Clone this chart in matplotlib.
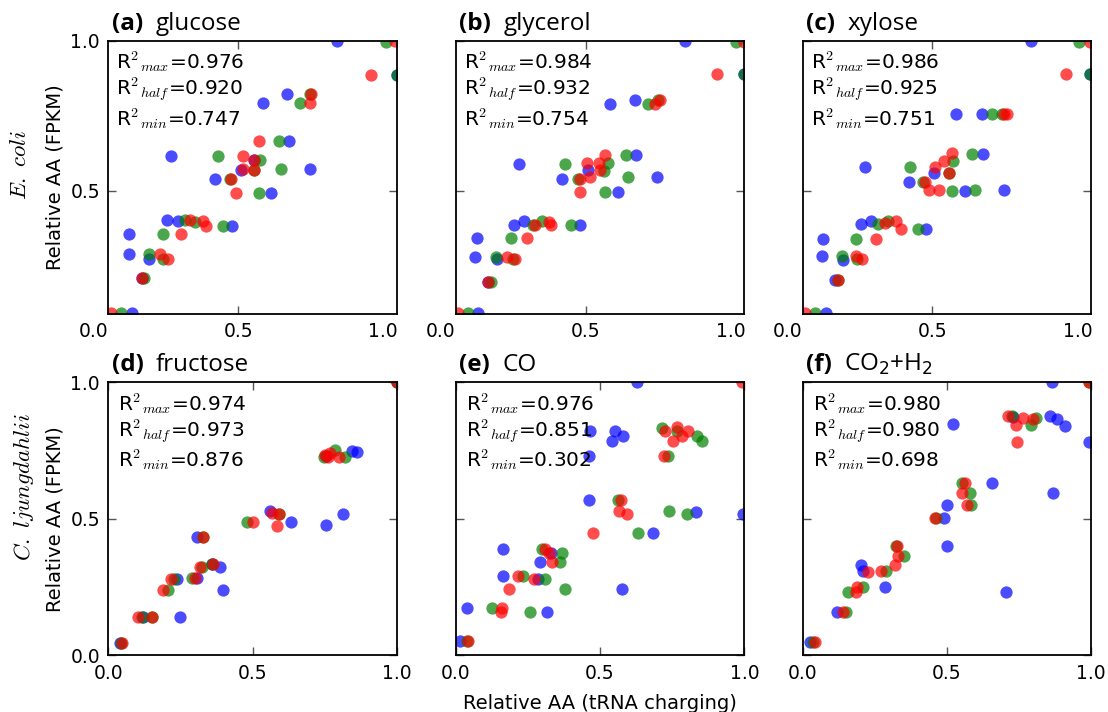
import numpy as np
import matplotlib
matplotlib.use("Agg")
import matplotlib.pyplot as plt

plt.rcParams['mathtext.fontset'] = 'cm'
plt.rcParams['font.family'] = 'DejaVu Sans'

# ---- data: (x, y) pairs, per condition and series ----
glucose_blue = [(0.840, 1.0), (0.668, 0.822), (0.584, 0.794), (0.675, 0.666), (0.269, 0.617),
                (0.748, 0.572), (0.509, 0.569), (0.421, 0.539), (0.614, 0.494), (0.254, 0.404),
                (0.291, 0.399), (0.480, 0.383), (0.125, 0.356), (0.122, 0.288), (0.194, 0.272),
                (0.133, 0.092), (1.047, 0.885), (0.553, 0.602), (0.168, 0.208)]
glucose_green = [(1.010, 0.997), (1.047, 0.885), (0.714, 0.794), (0.748, 0.822), (0.639, 0.666),
                 (0.430, 0.617), (0.576, 0.602), (0.647, 0.572), (0.472, 0.539), (0.570, 0.494),
                 (0.317, 0.404), (0.352, 0.397), (0.449, 0.383), (0.240, 0.356), (0.191, 0.288),
                 (0.240, 0.272), (0.174, 0.208), (0.097, 0.092), (0.556, 0.569)]
glucose_red = [(1.041, 1.0), (0.959, 0.885), (0.750, 0.822), (0.748, 0.794), (0.572, 0.666),
               (0.515, 0.617), (0.553, 0.602), (0.518, 0.572), (0.556, 0.569), (0.476, 0.539),
               (0.492, 0.494), (0.334, 0.404), (0.377, 0.399), (0.388, 0.383), (0.302, 0.356),
               (0.231, 0.288), (0.258, 0.272), (0.168, 0.208), (0.061, 0.092)]

glycerol_blue = [(0.843, 1.0), (0.669, 0.802), (0.584, 0.791), (0.672, 0.619), (0.269, 0.591),
                 (0.747, 0.547), (0.507, 0.569), (0.419, 0.539), (0.612, 0.497), (0.254, 0.386),
                 (0.288, 0.400), (0.479, 0.386), (0.125, 0.341), (0.119, 0.280), (0.194, 0.271),
                 (0.130, 0.092), (1.047, 0.889), (0.165, 0.197)]
glycerol_green = [(1.018, 0.997), (1.047, 0.889), (0.715, 0.791), (0.751, 0.802), (0.638, 0.619),
                  (0.430, 0.591), (0.577, 0.594), (0.563, 0.567), (0.646, 0.547), (0.473, 0.539),
                  (0.566, 0.497), (0.317, 0.386), (0.350, 0.400), (0.448, 0.386), (0.243, 0.341),
                  (0.191, 0.280), (0.248, 0.271), (0.174, 0.197), (0.093, 0.092)]
glycerol_red = [(1.047, 0.997), (0.953, 0.889), (0.738, 0.791), (0.755, 0.802), (0.565, 0.619),
                (0.503, 0.594), (0.546, 0.594), (0.514, 0.547), (0.549, 0.569), (0.480, 0.539),
                (0.480, 0.497), (0.324, 0.386), (0.373, 0.397), (0.382, 0.386), (0.298, 0.341),
                (0.228, 0.280), (0.257, 0.271), (0.165, 0.197), (0.059, 0.092)]

xylose_blue = [(0.840, 1.0), (0.582, 0.756), (0.669, 0.756), (0.673, 0.624), (0.268, 0.578),
               (0.748, 0.502), (0.506, 0.560), (0.420, 0.530), (0.611, 0.500), (0.253, 0.389),
               (0.288, 0.399), (0.478, 0.372), (0.124, 0.339), (0.119, 0.283), (0.193, 0.269),
               (0.133, 0.092), (0.165, 0.202), (1.043, 0.891)]
xylose_green = [(1.005, 0.997), (1.043, 0.891), (0.705, 0.756), (0.738, 0.756), (0.636, 0.624),
                (0.423, 0.578), (0.570, 0.599), (0.556, 0.561), (0.648, 0.502), (0.567, 0.500),
                (0.466, 0.530), (0.311, 0.389), (0.346, 0.399), (0.449, 0.372), (0.237, 0.339),
                (0.188, 0.283), (0.239, 0.271), (0.176, 0.202), (0.096, 0.092)]
xylose_red = [(1.043, 0.997), (0.959, 0.891), (0.748, 0.756), (0.757, 0.756), (0.567, 0.627),
              (0.510, 0.578), (0.541, 0.599), (0.556, 0.561), (0.489, 0.502), (0.521, 0.502),
              (0.473, 0.530), (0.335, 0.393), (0.374, 0.399), (0.391, 0.372), (0.305, 0.339),
              (0.237, 0.283), (0.257, 0.271), (0.173, 0.202), (0.061, 0.092)]

fructose_blue = [(1.0, 1.0), (0.844, 0.747), (0.861, 0.743), (0.755, 0.730), (0.815, 0.517),
                 (0.755, 0.476), (0.634, 0.487), (0.561, 0.527), (0.309, 0.433), (0.387, 0.323),
                 (0.399, 0.240), (0.249, 0.139), (0.239, 0.280), (0.040, 0.044), (0.358, 0.334),
                 (0.309, 0.282), (0.120, 0.139)]
fructose_green = [(1.0, 1.0), (0.746, 0.726), (0.786, 0.751), (0.821, 0.726), (0.480, 0.487),
                  (0.590, 0.518), (0.324, 0.323), (0.289, 0.282), (0.208, 0.240), (0.150, 0.139),
                  (0.116, 0.139), (0.361, 0.334), (0.329, 0.433), (0.229, 0.280), (0.043, 0.044)]
fructose_red = [(1.0, 1.0), (0.751, 0.735), (0.769, 0.741), (0.798, 0.726), (0.763, 0.726),
                (0.503, 0.487), (0.566, 0.523), (0.590, 0.517), (0.586, 0.474), (0.327, 0.433),
                (0.318, 0.323), (0.301, 0.282), (0.216, 0.280), (0.191, 0.240), (0.104, 0.139),
                (0.153, 0.139), (0.362, 0.334), (0.046, 0.044)]

co_blue = [(0.627, 1.0), (0.465, 0.823), (0.552, 0.823), (0.581, 0.802), (0.540, 0.784),
           (0.462, 0.729), (0.462, 0.570), (0.833, 0.524), (0.997, 0.517), (0.682, 0.447),
           (0.165, 0.390), (0.292, 0.340), (0.163, 0.292), (0.286, 0.280), (0.575, 0.243),
           (0.315, 0.158), (0.038, 0.172), (0.015, 0.054), (0.330, 0.375)]
co_green = [(0.714, 0.833), (0.835, 0.802), (0.852, 0.784), (0.737, 0.729), (0.563, 0.570),
            (0.740, 0.527), (0.803, 0.517), (0.633, 0.447), (0.298, 0.390), (0.367, 0.374),
            (0.361, 0.340), (0.234, 0.292), (0.309, 0.280), (0.379, 0.243), (0.125, 0.172),
            (0.258, 0.158), (0.038, 0.054), (0.765, 0.822)]
co_red = [(0.991, 1.0), (0.725, 0.823), (0.768, 0.835), (0.806, 0.820), (0.785, 0.802),
          (0.754, 0.784), (0.722, 0.731), (0.572, 0.570), (0.567, 0.527), (0.592, 0.517),
          (0.477, 0.447), (0.309, 0.390), (0.335, 0.340), (0.324, 0.374), (0.217, 0.292),
          (0.271, 0.280), (0.185, 0.243), (0.156, 0.158), (0.159, 0.172), (0.044, 0.054)]

co2h2_blue = [(0.864, 1.0), (0.521, 0.847), (0.856, 0.875), (0.881, 0.867), (0.910, 0.841),
              (0.992, 0.781), (0.867, 0.594), (0.657, 0.631), (0.502, 0.551), (0.490, 0.502),
              (0.502, 0.399), (0.706, 0.233), (0.201, 0.331), (0.210, 0.307), (0.285, 0.252),
              (0.120, 0.160), (0.025, 0.050), (0.730, 0.872)]
co2h2_green = [(0.725, 0.875), (0.810, 0.869), (0.793, 0.845), (0.554, 0.631), (0.579, 0.594),
               (0.585, 0.551), (0.464, 0.502), (0.352, 0.362), (0.288, 0.307), (0.210, 0.252),
               (0.158, 0.233), (0.149, 0.160), (0.037, 0.050), (0.325, 0.399), (0.992, 1.0)]
co2h2_red = [(0.992, 1.0), (0.712, 0.875), (0.764, 0.869), (0.798, 0.866), (0.738, 0.845),
             (0.744, 0.781), (0.564, 0.631), (0.554, 0.594), (0.570, 0.551), (0.460, 0.502),
             (0.329, 0.399), (0.331, 0.362), (0.319, 0.331), (0.273, 0.307), (0.227, 0.304),
             (0.190, 0.252), (0.185, 0.233), (0.141, 0.160), (0.043, 0.050)]

letters = ['(a)', '(b)', '(c)', '(d)', '(e)', '(f)']
conditions = ['glucose', 'glycerol', 'xylose', 'fructose', 'CO', r'CO$_2$+H$_2$']
r2_max = [0.976, 0.984, 0.986, 0.974, 0.976, 0.980]
r2_half = [0.920, 0.932, 0.925, 0.973, 0.851, 0.980]
r2_min = [0.747, 0.754, 0.751, 0.876, 0.302, 0.698]

series = [
    (glucose_blue, glucose_green, glucose_red),
    (glycerol_blue, glycerol_green, glycerol_red),
    (xylose_blue, xylose_green, xylose_red),
    (fructose_blue, fructose_green, fructose_red),
    (co_blue, co_green, co_red),
    (co2h2_blue, co2h2_green, co2h2_red),
]
colors = ['#0000ff', '#008000', '#ff0000']

fig = plt.figure(figsize=(11.08, 7.12), dpi=100)

lefts = [0.0977, 0.4113, 0.7243]
bottoms = [0.559, 0.0796]
w, h = 0.2605, 0.3835

for i in range(6):
    row, col = divmod(i, 3)
    ax = fig.add_axes([lefts[col], bottoms[row], w, h])
    for pts, c in zip(series[i], colors):
        arr = np.array(pts)
        ax.scatter(arr[:, 0], arr[:, 1], s=78, c=c, alpha=0.7, linewidths=0, zorder=2)

    if row == 0:
        ax.set_xlim(0.052, 1.047)
        ax.set_ylim(0.089, 1.0)
        ax.set_xticks([0.5])
        ax.set_yticks([0.5, 1.0])
        # labels for 0.0 / 1.0 sit just outside the axis limits
        for xv in [0.0, 1.0]:
            ax.annotate('%.1f' % xv, xy=(xv, 0), xycoords=('data', 'axes fraction'),
                        xytext=(0, -6), textcoords='offset points',
                        ha='center', va='top', fontsize=13.5, annotation_clip=False)
    else:
        ax.set_xlim(0, 1)
        ax.set_ylim(0, 1)
        ax.set_xticks([0.0, 0.5, 1.0])
        ax.set_yticks([0.0, 0.5, 1.0])
    ax.xaxis.set_major_formatter(plt.FormatStrFormatter('%.1f'))
    ax.yaxis.set_major_formatter(plt.FormatStrFormatter('%.1f'))
    ax.tick_params(direction='in', length=6, width=1, color='#555555', top=True, right=True,
                   labelsize=13.5, pad=6)
    if col != 0:
        ax.set_yticklabels([])
    for sp in ax.spines.values():
        sp.set_linewidth(1.3)

    x0 = 0.028 if row == 0 else 0.035
    for k, (name, val) in enumerate([('max', r2_max[i]), ('half', r2_half[i]), ('min', r2_min[i])]):
        ax.text(x0, 0.923 - k * 0.1036, r'R$^2$$_{%s}$=%.3f' % (name, val),
                transform=ax.transAxes, fontsize=14.5, va='center', ha='left')

    lt = ax.annotate(letters[i], xy=(0.012, 1.0), xycoords='axes fraction', xytext=(0, 8),
                     textcoords='offset points', fontsize=17.5, fontweight='bold',
                     family='Open Sans', va='baseline', ha='left')
    ax.annotate(conditions[i], xy=(1, 0), xycoords=lt, xytext=(9, 0),
                textcoords='offset points', fontsize=17.5, family='Open Sans',
                va='bottom', ha='left', math_fontfamily='dejavusans')

    if col == 0:
        ax.set_ylabel('Relative AA (FPKM)', fontsize=14, labelpad=4)
    if i == 4:
        ax.set_xlabel('Relative AA (tRNA charging)', fontsize=14, labelpad=8)

fig.text(20 / 1108, 1 - 165 / 712, r'$E.\ coli$', rotation=90, fontsize=16.5,
         ha='center', va='center')
fig.text(24 / 1108, 1 - 487 / 712, r'$C.\ ljungdahlii$', rotation=90, fontsize=16.5,
         ha='center', va='center')

fig.savefig('out.png', dpi=100)
